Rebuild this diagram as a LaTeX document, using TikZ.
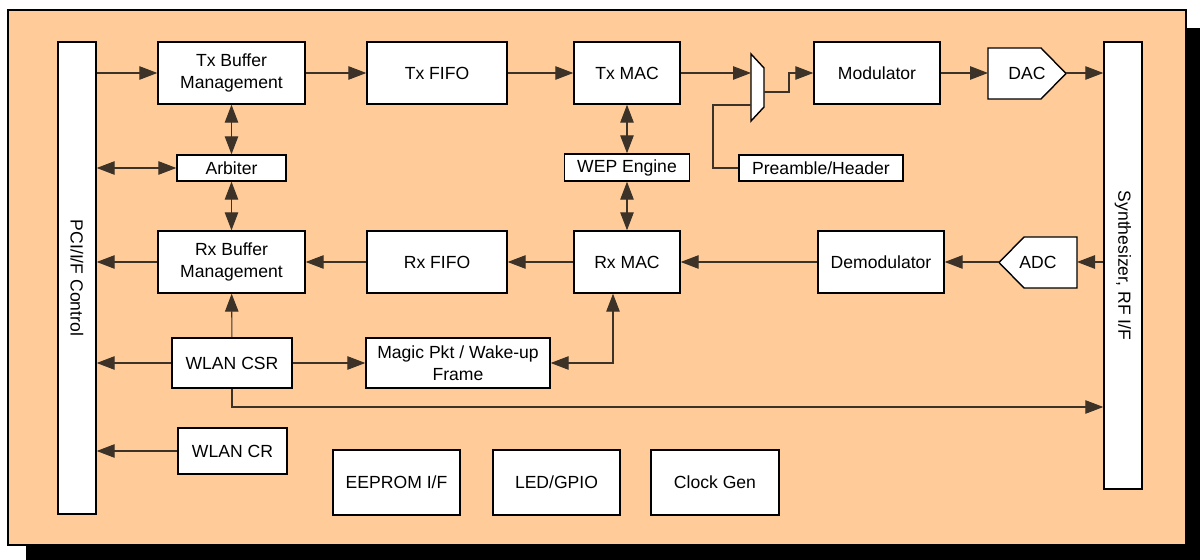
\documentclass[tikz,border=0pt]{standalone}
\usepackage{fontspec}
\setmainfont{Liberation Sans}
\usetikzlibrary{arrows.meta}
\definecolor{peach}{RGB}{255,204,153}
\definecolor{wirecol}{RGB}{60,50,40}

\begin{document}
\begin{tikzpicture}[x=0.02cm, y=-0.02cm, font=\fontsize{10}{12.5}\selectfont,
  blk/.style={draw, fill=white, line width=0.8pt, inner sep=1pt, align=center},
  shp/.style={draw, fill=white, line width=0.8pt},
  arr/.style={-{Triangle[length=0.36cm,width=0.27cm]}, draw=wirecol, line width=0.6pt},
  darr/.style={{Triangle[length=0.36cm,width=0.27cm]}-{Triangle[length=0.36cm,width=0.27cm]}, draw=wirecol, line width=0.6pt},
  ln/.style={draw=wirecol, line width=0.6pt}]
  \useasboundingbox (0,0) rectangle (1200,560);
  % frame and shadow
  \fill (26,28) rectangle (1200,560);
  \draw[fill=peach, line width=0.6pt] (8,10) rectangle (1186,545);

  % side buses
  \node[blk, rotate=-90, minimum width=9.44cm, minimum height=0.76cm] (pci) at (77,278) {PCI/I/F Control};
  \node[blk, rotate=-90, minimum width=8.94cm, minimum height=0.76cm] (synth) at (1123,265.5) {Synthesizer, RF I/F};

  % transmit path
  \node[blk, minimum width=2.94cm, minimum height=1.24cm] (txbuf) at (231.5,73) {Tx Buffer\\Management};
  \node[blk, minimum width=2.8cm, minimum height=1.24cm] (txfifo) at (437,73) {Tx FIFO};
  \node[blk, minimum width=2.12cm, minimum height=1.24cm] (txmac) at (627,73) {Tx MAC};
  \node[blk, minimum width=2.52cm, minimum height=1.24cm] (mod) at (877,73) {Modulator};
  \node[blk, minimum width=3.28cm, minimum height=0.52cm] (pre) at (821,168) {Preamble/Header};

  % middle row
  \node[blk, minimum width=2.18cm, minimum height=0.52cm] (arb) at (231.5,168) {Arbiter};
  \node[blk, minimum width=2.5cm, minimum height=0.54cm] (wep) at (627,167.5) {WEP Engine};

  % receive path
  \node[blk, minimum width=2.94cm, minimum height=1.24cm] (rxbuf) at (231.5,262) {Rx Buffer\\Management};
  \node[blk, minimum width=2.8cm, minimum height=1.24cm] (rxfifo) at (437,262) {Rx FIFO};
  \node[blk, minimum width=2.12cm, minimum height=1.24cm] (rxmac) at (627,262) {Rx MAC};
  \node[blk, minimum width=2.52cm, minimum height=1.24cm] (demod) at (881,262) {Demodulator};

  % registers and misc
  \node[blk, minimum width=2.4cm, minimum height=1.0cm] (csr) at (232,363) {WLAN CSR};
  \node[blk, minimum width=3.68cm, minimum height=1.0cm] (magic) at (458,363) {Magic Pkt / Wake-up\\Frame};
  \node[blk, minimum width=2.18cm, minimum height=0.92cm] (cr) at (232.5,451) {WLAN CR};
  \node[blk, minimum width=2.54cm, minimum height=1.3cm] (eeprom) at (396.5,482.5) {EEPROM I/F};
  \node[blk, minimum width=2.54cm, minimum height=1.3cm] (led) at (556.5,482.5) {LED/GPIO};
  \node[blk, minimum width=2.56cm, minimum height=1.3cm] (clk) at (715,482.5) {Clock Gen};

  % mux, DAC, ADC
  \draw[shp] (751,54) -- (764,68) -- (764,107) -- (751,121) -- cycle;
  \coordinate (muxin) at (751,73);
  \coordinate (muxout) at (764,92);
  \coordinate (muxsel) at (751,105);
  \draw[shp] (988,48) -- (1041,48) -- (1066,73.5) -- (1041,99) -- (988,99) -- cycle;
  \node (dac) at (1027,73.5) {DAC};
  \coordinate (dacin) at (988,73);
  \coordinate (dacout) at (1066,73);
  \draw[shp] (1077,237) -- (1024,237) -- (999,262.5) -- (1024,288) -- (1077,288) -- cycle;
  \node (adc) at (1038,262.5) {ADC};
  \coordinate (adcin) at (1077,262);
  \coordinate (adcout) at (999,262);

  % connectors
  \draw[arr] (pci.north |- txbuf) -- (txbuf);
  \draw[arr] (txbuf) -- (txfifo);
  \draw[arr] (txfifo) -- (txmac);
  \draw[arr] (txmac) -- (muxin);
  \draw[arr] (muxout) -- ++(25,0) |- (mod.west);
  \draw[ln] (muxsel) -- ++(-38,0) |- (pre.west);
  \draw[arr] (mod) -- (dacin);
  \draw[arr] (dacout) -- (synth.south |- dacout);

  \draw[darr] (txbuf) -- (arb);
  \draw[darr] (arb) -- (rxbuf);
  \draw[darr] (pci.north |- arb) -- (arb);
  \draw[darr] (txmac) -- (wep);
  \draw[darr] (wep) -- (rxmac);

  \draw[arr] (synth.south |- adcin) -- (adcin);
  \draw[arr] (adcout) -- (demod);
  \draw[arr] (demod) -- (rxmac);
  \draw[arr] (rxmac) -- (rxfifo);
  \draw[arr] (rxfifo) -- (rxbuf);
  \draw[arr] (rxbuf) -- (pci.north |- rxbuf);

  \draw[arr] (csr) -- (rxbuf);
  \draw[arr] (csr) -- (pci.north |- csr);
  \draw[arr] (csr) -- (magic);
  \draw[darr] ([xshift=-0.28cm]rxmac.south) |- (magic.east);
  \coordinate (csrbus) at (232,407);
  \draw[arr] (csr.south) -- (csrbus) -- (csrbus -| synth.south);
  \draw[arr] (cr) -- (pci.north |- cr);
\end{tikzpicture}
\end{document}
